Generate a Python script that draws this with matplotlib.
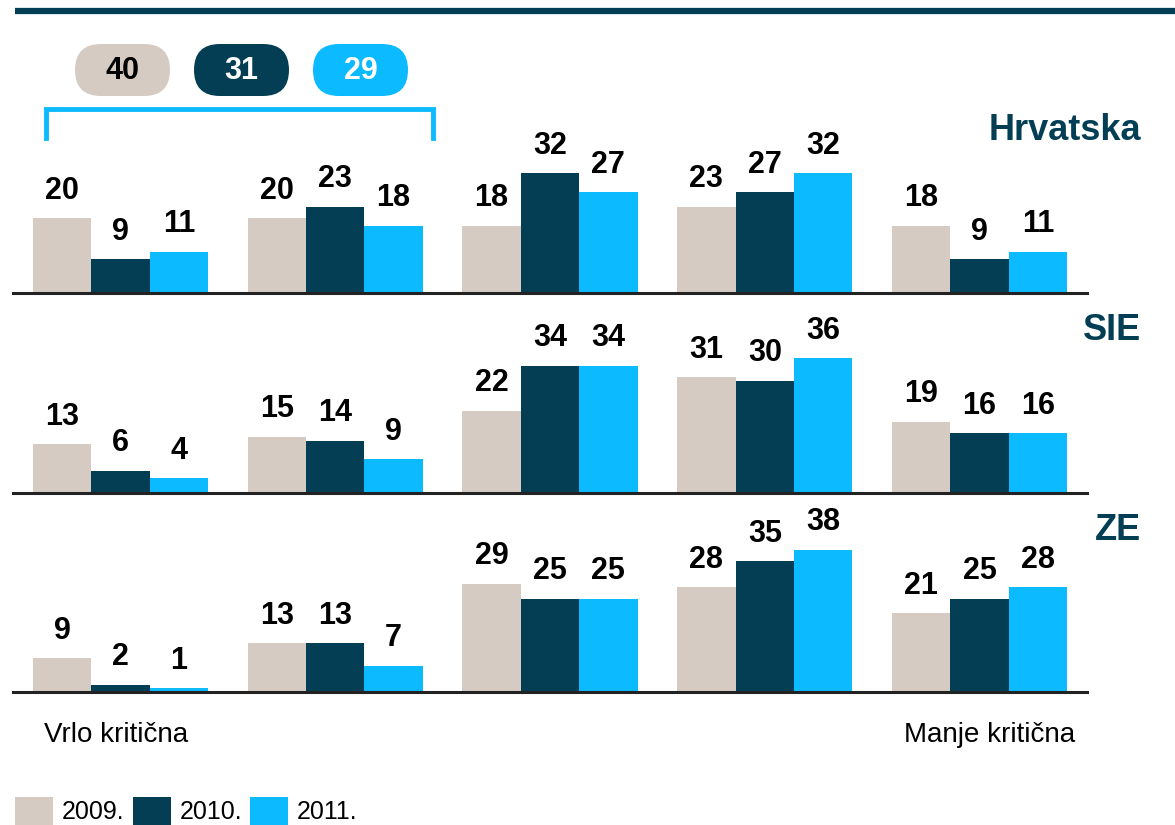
import matplotlib.pyplot as plt
from matplotlib.patches import FancyBboxPatch, Rectangle

plt.rcParams['font.family'] = ['Liberation Sans Narrow', 'Liberation Sans', 'DejaVu Sans']

# podaci
years = ['2009.', '2010.', '2011.']
regions = ['Hrvatska', 'SIE', 'ZE']
hrvatska = [[20, 20, 18, 23, 18],
            [9, 23, 32, 27, 9],
            [11, 18, 27, 32, 11]]
sie = [[13, 15, 22, 31, 19],
       [6, 14, 34, 30, 16],
       [4, 9, 34, 36, 16]]
ze = [[9, 13, 29, 28, 21],
      [2, 13, 25, 35, 25],
      [1, 7, 25, 38, 28]]
pill_values = [40, 31, 29]
scale_left = 'Vrlo kritična'
scale_right = 'Manje kritična'

boje = ['#d5cbc3', '#033e55', '#0bbaff']
tamna = '#033e55'

W, H = 1175, 825
fig = plt.figure(figsize=(W / 100, H / 100), dpi=100)

baselines = [293, 493, 692]
px_per_unit = 3.74
ymax = 42
panels = [hrvatska, sie, ze]
region_y = [131, 330, 530]

for data, base in zip(panels, baselines):
    ax = fig.add_axes([13 / W, (H - base) / H, 1074 / W, ymax * px_per_unit / H])
    ax.set_xlim(-0.5, 4.5)
    ax.set_ylim(0, ymax)
    ax.axis('off')
    w = 0.272
    x = range(5)
    for i, serija in enumerate(data):
        pos = [k + (i - 1) * w for k in x]
        bars = ax.bar(pos, serija, width=w, color=boje[i], linewidth=0)
        ax.bar_label(bars, padding=9, fontsize=22, fontweight='bold', color='black')
    ax.axhline(0, color='#222222', lw=2.2, clip_on=False)

# sloj za ukrase u pikselima
ov = fig.add_axes([0, 0, 1, 1], zorder=5)
ov.set_xlim(0, W)
ov.set_ylim(H, 0)
ov.axis('off')

ov.plot([15, W], [11, 11], color=tamna, lw=4.5, solid_capstyle='butt')

# kapsule s ukupnim vrijednostima
pill_x = [75, 194, 313]
for px, val, c in zip(pill_x, pill_values, boje):
    ov.add_patch(FancyBboxPatch((px, 44), 95, 52,
                                boxstyle='round,pad=0,rounding_size=26',
                                fc=c, ec='none'))
    ov.text(px + 47.5, 71, str(val), ha='center', va='center', fontsize=22,
            fontweight='bold', color='black' if c == boje[0] else 'white')

# uglata zagrada iznad prve dvije grupe
ov.plot([46, 46, 433, 433], [138, 108.5, 108.5, 138], color=boje[2], lw=3.5,
        solid_joinstyle='miter')

for name, y in zip(regions, region_y):
    ov.text(1141, y, name, ha='right', va='center', fontsize=26,
            fontweight='bold', color=tamna)

ov.text(44, 735, scale_left, ha='left', va='center', fontsize=20, color='black')
ov.text(1075, 735, scale_right, ha='right', va='center', fontsize=20, color='black')

# legenda
leg_x = [15, 133, 250]
for lx, c, lab in zip(leg_x, boje, years):
    ov.add_patch(Rectangle((lx, 797), 38, 30, fc=c, ec='none'))
    ov.text(lx + 47, 812, lab, ha='left', va='center', fontsize=18, color='black')

fig.savefig('out.png', dpi=100)
